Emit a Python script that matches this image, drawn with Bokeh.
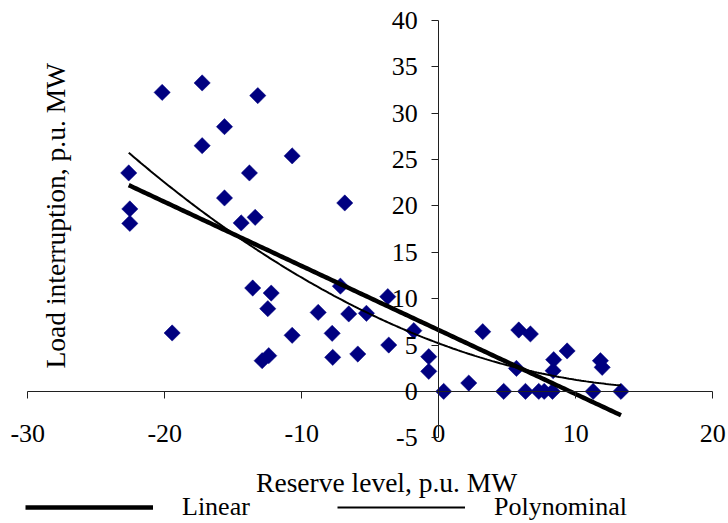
import numpy as np
from bokeh.plotting import figure
from bokeh.models import (LinearAxis, FixedTicker, Label, Legend, LegendItem,
                          ColumnDataSource)
from bokeh.embed import file_html
from bokeh.resources import INLINE

# ---- data ----
reserve = [-20.19, -17.27, -13.21, -15.64, -17.27, -10.70, -22.63, -13.82,
           -15.64, -22.55, -22.55, -14.42, -13.40, -19.46, -13.58, -12.23,
           -12.48, -12.89, -12.41, -10.70, -6.86, -7.18, -8.80, -6.57,
           -5.28, -3.72, -7.78, -7.74, -5.91, -3.65, -1.82, -0.73,
           -0.73, 0.36, 2.19, 3.21, 4.74, 5.84, 6.69, 5.67,
           6.33, 7.30, 7.70, 8.30, 8.35, 8.39, 9.37, 11.27,
           11.80, 11.93, 13.30]
interruption = [32.25, 33.27, 31.90, 28.55, 26.50, 25.40, 23.56, 23.56,
                20.86, 19.68, 18.12, 18.17, 18.77, 6.30, 11.15, 10.60,
                8.92, 3.31, 3.85, 6.05, 20.32, 11.35, 8.52, 8.35,
                8.42, 10.22, 6.26, 3.67, 4.03, 5.00, 6.55, 3.74,
                2.16, 0.00, 0.90, 6.44, 0.00, 6.62, 6.19, 2.48,
                0.00, 0.00, 0.00, 0.00, 2.23, 3.42, 4.36, 0.00,
                3.31, 2.59, 0.00]
x_ticks = [-30, -20, -10, 0, 10, 20]
y_ticks = [-5, 0, 5, 10, 15, 20, 25, 30, 35, 40]
x_bounds = (-30, 20)
y_bounds = (-5, 40)
series_names = ["Linear", "Polynominal"]
x_title = "Reserve level, p.u. MW"
y_title = "Load interruption, p.u. MW"

FONT = "Liberation Serif"

# the plotting frame fills the whole canvas; the axes are drawn inside it
p = figure(width=728, height=523, x_range=(-31.99, 21.15),
           y_range=(-14.25, 42.16),
           output_backend="svg", toolbar_location=None,
           x_axis_location=None, y_axis_location=None,
           min_border_left=0, min_border_right=0,
           min_border_top=0, min_border_bottom=0)
p.grid.visible = False
p.outline_line_color = None
p.background_fill_color = "white"
p.border_fill_color = "white"

# x axis line through y = 0 (ticks only)
xa = LinearAxis(fixed_location=0, ticker=FixedTicker(ticks=x_ticks),
                bounds=x_bounds)
xa.major_tick_out = 7
xa.major_tick_in = 0
xa.minor_tick_line_color = None
xa.axis_line_color = "#202020"
xa.major_tick_line_color = "#202020"
xa.major_label_text_font_size = "0px"
xa.major_label_text_alpha = 0
p.add_layout(xa, "below")

# x tick labels sitting on the y = -5 level (plain hyphen minus signs)
xl = LinearAxis(fixed_location=-5, ticker=FixedTicker(ticks=x_ticks),
                bounds=x_bounds)
xl.axis_line_color = None
xl.major_tick_line_color = None
xl.minor_tick_line_color = None
xl.major_tick_out = 0
xl.major_tick_in = 0
xl.major_label_standoff = -13
xl.major_label_overrides = {t: str(t) for t in x_ticks}
xl.major_label_text_font = FONT
xl.major_label_text_font_size = "26px"
xl.major_label_text_color = "black"
p.add_layout(xl, "below")

# y axis through x = 0
ya = LinearAxis(fixed_location=0, ticker=FixedTicker(ticks=y_ticks),
                bounds=y_bounds)
ya.major_tick_out = 7
ya.major_tick_in = 0
ya.minor_tick_line_color = None
ya.axis_line_color = "#202020"
ya.major_tick_line_color = "#202020"
ya.major_label_standoff = 14
ya.major_label_overrides = {t: str(t) for t in y_ticks}
ya.major_label_text_font = FONT
ya.major_label_text_font_size = "26px"
ya.major_label_text_color = "black"
p.add_layout(ya, "left")

# scatter points
src = ColumnDataSource(dict(x=reserve, y=interruption))
p.scatter("x", "y", source=src, marker="square", angle=np.pi / 4, size=11.5,
          fill_color="#000080", line_color="#000080", line_width=0.5)

# trend lines (least squares, like the spreadsheet trendlines)
xs = np.linspace(min(reserve), max(reserve), 200)
lin = np.polyfit(reserve, interruption, 1)
poly = np.polyfit(reserve, interruption, 2)
r_lin = p.line(xs, np.polyval(lin, xs), line_color="black", line_width=4.5)
r_poly = p.line(xs, np.polyval(poly, xs), line_color="black", line_width=2)

# axis titles
p.add_layout(Label(x=-3.8, y=-9.85, text=x_title, text_font=FONT,
                   text_font_size="27.5px", text_align="center",
                   text_baseline="middle", text_color="black"))
p.add_layout(Label(x=-27.98, y=18.95, text=y_title, text_font=FONT,
                   text_font_size="27.5px", text_align="center",
                   text_baseline="middle", text_color="black",
                   angle=np.pi / 2))

legend = Legend(items=[LegendItem(label=series_names[0], renderers=[r_lin]),
                       LegendItem(label=series_names[1], renderers=[r_poly])],
                orientation="horizontal", location=(25, 1),
                padding=0, margin=0, spacing=0,
                glyph_width=128, glyph_height=30, label_height=30,
                label_width=155, label_standoff=29,
                label_text_font=FONT, label_text_font_size="26px",
                label_text_color="black",
                border_line_color=None, background_fill_alpha=0)
p.add_layout(legend, "center")

open("out.html", "w").write(file_html(p, INLINE))
